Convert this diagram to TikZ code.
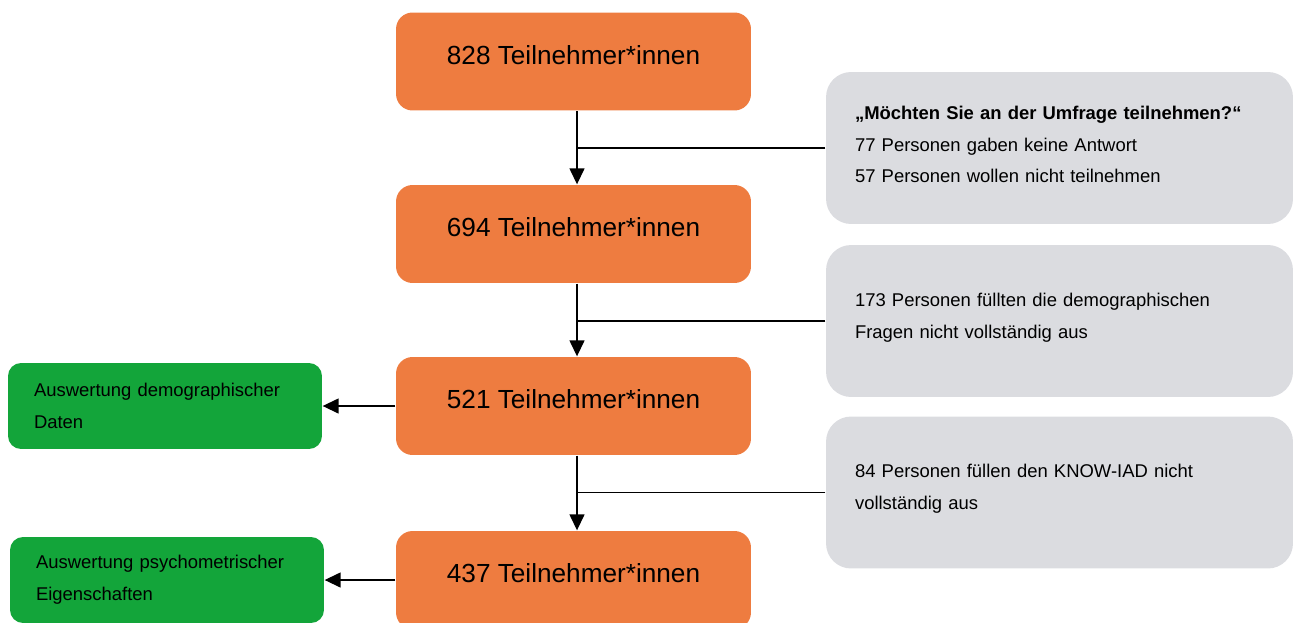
\documentclass[tikz,border=0pt]{standalone}
\usepackage{fontspec}
\setmainfont{Liberation Sans}
\usetikzlibrary{arrows.meta}
\definecolor{boxorange}{RGB}{238,124,64}
\definecolor{boxgrey}{RGB}{219,220,224}
\definecolor{boxgreen}{RGB}{19,165,58}
\def\flowshift{0.07cm}

\begin{document}
\begin{tikzpicture}[x=0.02cm,y=-0.02cm,line width=0.8pt,>={Triangle[width=0.3cm,length=0.32cm]}]
    \tikzstyle{box}=[rectangle,inner sep=0pt]
    \tikzstyle{count}=[box,fill=boxorange,rounded corners=0.33cm,minimum width=7.1cm,minimum height=1.96cm,font=\fontsize{14.9}{18}\selectfont,text depth=0.26cm]
    \tikzstyle{dropout}=[box,fill=boxgrey,rounded corners=0.5cm,minimum width=9.34cm,minimum height=3.04cm,text width=8.18cm,align=left,font=\fontsize{10.5}{18.1}\selectfont,execute at end node={\endgraf\vspace*{0.14cm}}]
    \tikzstyle{analysis}=[box,fill=boxgreen,rounded corners=0.26cm,minimum width=6.28cm,minimum height=1.72cm,text width=5.24cm,align=left,font=\fontsize{10.5}{18.1}\selectfont]

    \useasboundingbox (0,0) rectangle (1300,622);

    % Draw the participant counts
    \foreach \name / \num / \y in {1/828/61.5,2/694/234,3/521/406,4/437/580}
        \node[count] (O-\name) at (573.5,\y) {\num\ Teilnehmer*innen};

    % Draw the dropout notes
    \node[dropout] (N-1) at (1059.5,148) {\textbf{„Möchten Sie an der Umfrage teilnehmen?“}\\77 Personen gaben keine Antwort\\57 Personen wollen nicht teilnehmen};
    \node[dropout] (N-2) at (1059.5,321) {173 Personen füllten die demographischen\\Fragen nicht vollständig aus};
    \node[dropout] (N-3) at (1059.5,492.5) {84 Personen füllen den KNOW-IAD nicht\\vollständig aus};

    % Draw the analysis boxes
    \node[analysis] (A-1) at (165,406) {Auswertung demographischer\\Daten};
    \node[analysis] (A-2) at (167,580) {Auswertung psychometrischer\\Eigenschaften};

    % Connect every count with the next one
    \foreach \source / \dest in {1/2,2/3,3/4}
    {
        \coordinate (S-\source) at ([xshift=\flowshift]O-\source.south);
        \draw[->] (S-\source) -- (O-\dest.north -| S-\source);
        \draw (N-\source.west) -- (N-\source.west -| S-\source);
    }

    % Connect the counts with the analyses
    \draw[->] (O-3.west) -- (O-3.west -| A-1.east);
    \draw[->] (O-4.west) -- (O-4.west -| A-2.east);
\end{tikzpicture}
\end{document}
